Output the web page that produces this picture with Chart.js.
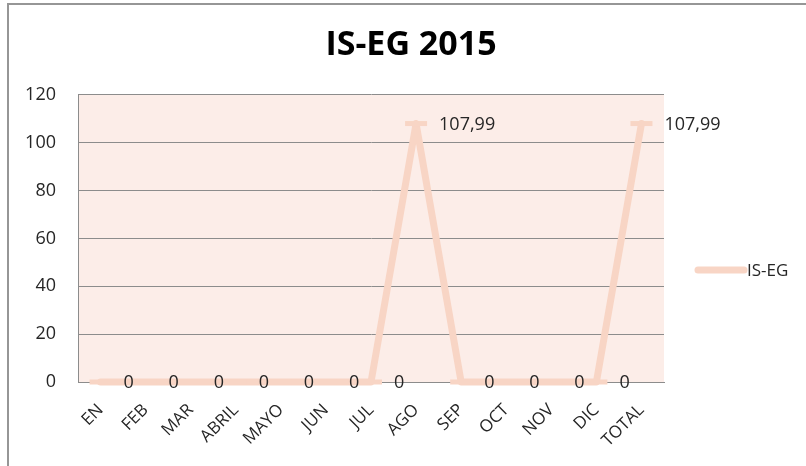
<!DOCTYPE html>
<html>
<head>
<meta charset="utf-8">
<script src="https://cdn.jsdelivr.net/npm/chart.js@4/dist/chart.umd.min.js"></script>
<style>
  html, body { margin: 0; padding: 0; background: #fff; }
  #wrap { position: relative; width: 806px; height: 466px; }
  #frame { position: absolute; left: 7px; top: 3px; right: 0; bottom: 0;
           border-top: 2px solid #969696; border-left: 2px solid #969696; pointer-events: none; }
  canvas { position: absolute; left: 0; top: 0; }
</style>
</head>
<body>
<div id="wrap">
  <canvas id="chart" width="806" height="466"></canvas>
  <div id="frame"></div>
</div>
<script>
// data
const months = ['EN', 'FEB', 'MAR', 'ABRIL', 'MAYO', 'JUN', 'JUL', 'AGO', 'SEP', 'OCT', 'NOV', 'DIC', 'TOTAL'];
const isegValues = [0, 0, 0, 0, 0, 0, 0, 107.99, 0, 0, 0, 0, 107.99];
const seriesName = 'IS-EG';
const chartTitle = 'IS-EG 2015';

const lineColor = '#f8d5c5';
const plotBg = '#fcede8';
const gridColor = '#8c8c8c';
const textColor = '#262626';
const fontFamily = "'Open Sans', 'DejaVu Sans', sans-serif";

// plot area background
const plotBackground = {
    id: 'plotBackground',
    beforeDraw(chart) {
        const { ctx, chartArea: a } = chart;
        ctx.save();
        ctx.fillStyle = plotBg;
        ctx.fillRect(a.left, a.top, a.right - a.left, a.bottom - a.top);
        ctx.restore();
    }
};

// value labels to the right of each point (decimal comma)
const valueLabels = {
    id: 'valueLabels',
    afterDatasetsDraw(chart) {
        const ctx = chart.ctx;
        const meta = chart.getDatasetMeta(0);
        ctx.save();
        ctx.font = '18px ' + fontFamily;
        ctx.fillStyle = textColor;
        ctx.textAlign = 'left';
        ctx.textBaseline = 'middle';
        meta.data.forEach((pt, i) => {
            const txt = String(isegValues[i]).replace('.', ',');
            ctx.fillText(txt, pt.x + 23, pt.y + 1);
        });
        ctx.restore();
    }
};

// legend on the right, like the spreadsheet one
const sideLegend = {
    id: 'sideLegend',
    afterDraw(chart) {
        const ctx = chart.ctx;
        const y = 270;
        const x0 = chart.chartArea.right + 34;
        ctx.save();
        ctx.strokeStyle = lineColor;
        ctx.lineWidth = 7;
        ctx.lineCap = 'round';
        ctx.beginPath();
        ctx.moveTo(x0, y);
        ctx.lineTo(x0 + 46, y);
        ctx.stroke();
        ctx.font = '17px ' + fontFamily;
        ctx.fillStyle = textColor;
        ctx.textBaseline = 'middle';
        ctx.fillText(seriesName, x0 + 49, y + 1);
        ctx.restore();
    }
};

new Chart(document.getElementById('chart'), {
    type: 'line',
    data: {
        labels: months,
        datasets: [{
            label: seriesName,
            data: isegValues,
            borderColor: lineColor,
            borderWidth: 7,
            borderCapStyle: 'round',
            borderJoinStyle: 'round',
            tension: 0,
            pointStyle: 'line',
            pointRadius: 11,
            pointBorderWidth: 5,
            pointBorderColor: lineColor,
            pointBackgroundColor: lineColor,
            clip: false
        }]
    },
    options: {
        responsive: false,
        animation: false,
        layout: { padding: { top: 0, right: 0, bottom: 0, left: 16 } },
        plugins: {
            legend: { display: false },
            tooltip: { enabled: false },
            title: {
                display: true,
                text: chartTitle,
                color: '#000',
                font: { family: fontFamily, size: 34, weight: 'bold' },
                padding: { top: 25, bottom: 29 }
            }
        },
        scales: {
            x: {
                offset: true,
                grid: { display: false, drawTicks: false },
                border: { display: true, color: gridColor, width: 1 },
                ticks: {
                    color: textColor,
                    font: { family: fontFamily, size: 17 },
                    maxRotation: 45,
                    minRotation: 45,
                    autoSkip: false,
                    padding: 18
                },
                afterFit(scale) { scale.height = 84; }
            },
            y: {
                min: 0,
                max: 120,
                ticks: {
                    stepSize: 20,
                    color: textColor,
                    font: { family: fontFamily, size: 18 },
                    padding: 22
                },
                grid: { color: gridColor, lineWidth: 1, drawTicks: false },
                border: { display: true, color: gridColor, width: 1 },
                afterFit(scale) { scale.width = 62; }
            },
            // empty right-hand axis that reserves room for the legend
            legendSpace: {
                type: 'linear',
                position: 'right',
                min: 0,
                max: 120,
                grid: { display: false, drawTicks: false },
                border: { display: false },
                ticks: { display: false },
                afterFit(scale) { scale.width = 142; }
            }
        }
    },
    plugins: [plotBackground, valueLabels, sideLegend]
});
</script>
</body>
</html>
